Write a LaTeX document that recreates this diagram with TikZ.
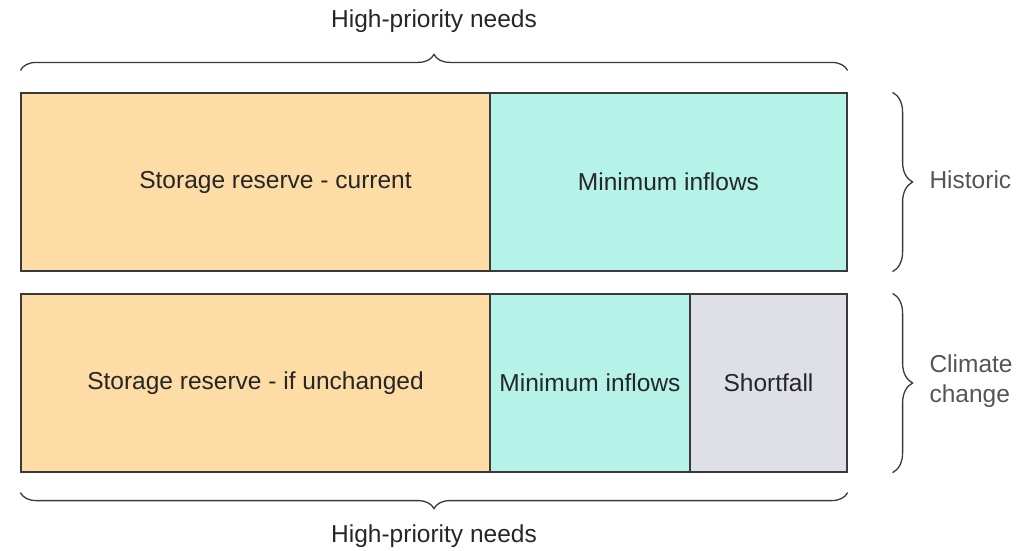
\documentclass[tikz,border=0pt]{standalone}
\usepackage{fontspec}
\setmainfont{Liberation Sans}
\usetikzlibrary{decorations.pathreplacing}
\definecolor{reserve}{HTML}{FDDCA5}
\definecolor{inflow}{HTML}{B5F3E8}
\definecolor{short}{HTML}{DFE0E7}
\definecolor{edge}{HTML}{3A3A3A}
\definecolor{side}{HTML}{555555}
\begin{document}
\begin{tikzpicture}[x=1pt, y=-1pt,
  every node/.style = {font=\fontsize{24.5}{30}\selectfont},
  part/.style = {shape=rectangle, draw=edge, line width=1.2pt,
    inner sep=0pt, minimum height=178pt, text=black!85},
  bracket/.style = {draw=edge, line width=1.3pt,
    decorate, decoration={brace, amplitude=#1}},
  tag/.style = {text=side, align=left}]
  \useasboundingbox (0,0) rectangle (1033,550);
  % historic row
  \node[part, fill=reserve, minimum width=469pt] (storeHist) at (255.5,182)
    {\hspace*{40pt}Storage reserve - current};
  \node[part, fill=inflow, minimum width=357pt] (inflowHist) at (668.5,182)
    {Minimum inflows};
  % climate change row
  \node[part, fill=reserve, minimum width=469pt] (storeClim) at (255.5,383)
    {Storage reserve - if unchanged};
  \node[part, fill=inflow, minimum width=200pt] (inflowClim) at (590,383)
    {Minimum inflows};
  \node[part, fill=short, minimum width=157pt] (short) at (768.5,383)
    {Shortfall};
  % braces
  \coordinate (topL) at ([yshift=22pt]storeHist.north west);
  \coordinate (topR) at ([yshift=22pt]inflowHist.north east);
  \coordinate (botL) at ([yshift=-20pt]storeClim.south west);
  \coordinate (botR) at ([yshift=-20pt]short.south east);
  \draw[bracket=16pt] (topL) -- (topR);
  \draw[bracket=16pt] (botR) -- (botL);
  \draw[bracket=20pt] ([xshift=45pt]inflowHist.north east)
    -- ([xshift=45pt]inflowHist.south east);
  \draw[bracket=20pt] ([xshift=45pt]short.north east)
    -- ([xshift=45pt]short.south east);
  % labels
  \node[text=black!85] (needsTop) at (434,21) {High-priority needs};
  \node[text=black!85] (needsBot) at (434,536) {High-priority needs};
  \node[tag, anchor=west] (historic) at (926,180) {Historic};
  \node[tag, anchor=west] (climate) at (926,381) {Climate\\change};
\end{tikzpicture}
\end{document}
